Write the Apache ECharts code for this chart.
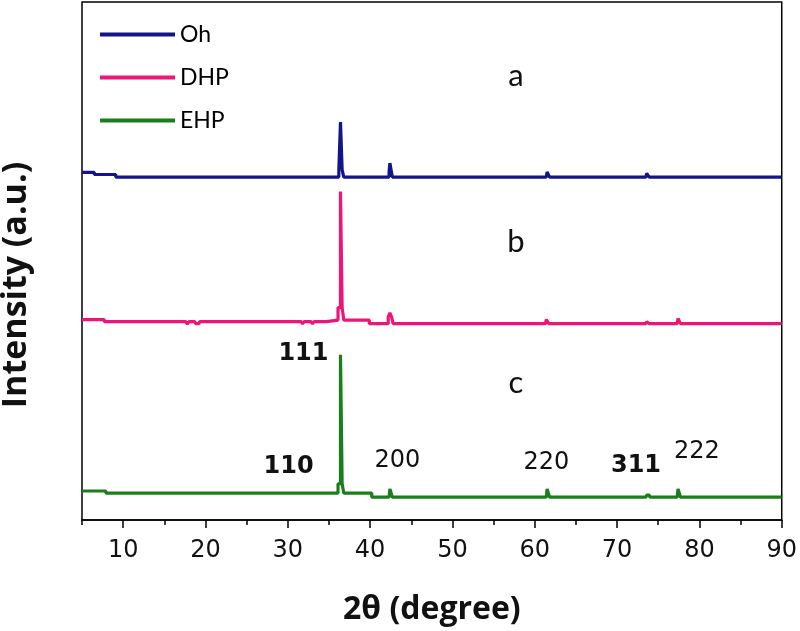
<!DOCTYPE html>
<html><head><meta charset="utf-8">
<script src="https://cdn.jsdelivr.net/npm/echarts@6/dist/echarts.min.js"></script>
<style>html,body{margin:0;padding:0;background:#fff}#c{width:800px;height:631px}</style>
</head><body><div id="c"></div>
<script>
// Series names
const seriesNames = ['Oh', 'DHP', 'EHP'];
// Patterns: [2theta, displayed intensity (patterns stacked with offsets)]
const ohData = [[5,671],[6.5,671],[6.5,667],[9.1,667],[9.1,662],[36.2,662],[36.2,676],[36.4,676],[36.4,768],[36.6,768],[36.6,676],[36.8,676],[36.8,662],
  [42.3,662],[42.3,671],[42.4,671],[42.4,689],[42.6,689],[42.6,671],[42.7,671],[42.7,662],
  [61.4,662],[61.5,672],[61.7,672],[61.8,662],[73.5,662],[73.6,669],[73.8,669],[73.9,662],[90,662]];
const dhpData = [[5,387],[7.7,387],[7.7,383],[17.6,383],[17.8,378],[18.0,383],[18.7,383],[18.8,379],[19.2,379],[19.3,383],
  [31.6,383],[31.8,379],[32.0,383],[32.8,383],[33.0,379],[33.2,383],[34.7,383],[34.7,386],[36.1,386],[36.1,410],[36.4,410],[36.4,634],[36.6,634],[36.6,410],[36.8,410],[36.8,386],[39.9,386],[39.9,379],
  [42.2,379],[42.2,392],[42.4,392],[42.4,400],[42.6,400],[42.6,392],[42.8,392],[42.8,379],
  [61.3,379],[61.4,387],[61.6,387],[61.7,379],[73.5,379],[73.6,383],[73.8,383],[73.9,379],[77.3,379],[77.4,389],[77.6,389],[77.7,379],[90,379]];
const ehpData = [[5,56],[7.9,56],[7.9,52],[36.1,52],[36.1,70],[36.4,70],[36.4,319],[36.6,319],[36.6,70],[36.8,70],[36.8,52],[40.2,52],[40.2,44],
  [42.3,44],[42.4,60],[42.6,60],[42.7,44],[61.4,44],[61.5,60],[61.7,60],[61.8,44],[73.5,44],[73.6,48],[73.9,48],[74.0,44],[77.3,44],[77.4,60],[77.6,60],[77.7,44],[90,44]];
// Sample labels [text, x, y]
const sampleLabels = [['a',57.7,857],['b',57.7,537],['c',57.7,264]];
// hkl annotations [text, x, y, bold]
const hklLabels = [['111',31.9,320,true],['110',30.1,102,true],['200',43.3,114,false],['220',61.4,110,false],['311',72.3,104,true],['222',79.7,131,false]];
// x axis
const xRange = {min:5, max:90, minorInterval:5};
const xTickLabels = [10,20,30,40,50,60,70,80,90];

const colors = ['#13138a','#ee1578','#1a7f1a'];
const chart = echarts.init(document.getElementById('c'));
const numFont = 'DejaVu Sans, Verdana, sans-serif';
const titleFont = 'Open Sans, sans-serif';

function mp(list) {
  return {
    symbol:'circle', symbolSize:0, silent:true,
    data: list.map(l => ({name:l[0], coord:[l[1], l[2]],
      label: l.length>3
        ? {show:true, position:'inside', formatter:'{b}', color:'#111', fontFamily:numFont, fontSize:24, fontWeight:l[3]?'bold':'normal'}
        : {show:true, position:'inside', formatter:'{b}', color:'#111', fontFamily:'Lato, sans-serif', fontSize:31}}))
  };
}

chart.setOption({
  animation:false,
  color:colors,
  grid:{left:82, right:17, top:2, bottom:111, show:true, borderColor:'#000', borderWidth:1.5},
  legend:{orient:'vertical', left:95, top:18, itemWidth:75, itemHeight:4, itemGap:20, icon:'rect',
    textStyle:{fontSize:23, fontFamily:'Lato, sans-serif', color:'#000', lineHeight:20},
    data:seriesNames},
  xAxis:[{type:'value', min:xRange.min, max:xRange.max, interval:xRange.minorInterval,
    axisLine:{show:true, lineStyle:{color:'#000', width:1.5}},
    axisTick:{show:true, inside:false, length:5, lineStyle:{color:'#000', width:1.5}},
    axisLabel:{show:false}, splitLine:{show:false},
    name:'2θ (degree)', nameLocation:'middle', nameGap:74,
    nameTextStyle:{fontSize:32, fontWeight:'bold', fontFamily:titleFont, color:'#111'}},
   {type:'value', position:'bottom', min:xRange.min, max:xRange.max,
    axisLine:{show:false},
    axisTick:{show:true, inside:false, length:8, customValues:xTickLabels, lineStyle:{color:'#000', width:1.5}},
    axisLabel:{show:true, customValues:xTickLabels, fontSize:24, fontFamily:numFont, color:'#111', margin:19},
    splitLine:{show:false}}],
  yAxis:{type:'value', min:0, max:1000,
    axisLine:{show:false}, axisTick:{show:false}, axisLabel:{show:false}, splitLine:{show:false}},
  graphic:[{type:'text', x:16, y:285, rotation:Math.PI/2,
    style:{text:'Intensity (a.u.)', font:'bold 34px Open Sans, sans-serif', fill:'#111', align:'center', verticalAlign:'middle'}}],
  series:[
    {name:'Oh', type:'line', data:ohData, showSymbol:false, lineStyle:{width:3.2}, markPoint:mp([sampleLabels[0]])},
    {name:'DHP', type:'line', data:dhpData, showSymbol:false, lineStyle:{width:3.2}, markPoint:mp([sampleLabels[1]])},
    {name:'EHP', type:'line', data:ehpData, showSymbol:false, lineStyle:{width:3.2}, markPoint:mp([sampleLabels[2]].concat(hklLabels))}
  ]
});
</script></body></html>
